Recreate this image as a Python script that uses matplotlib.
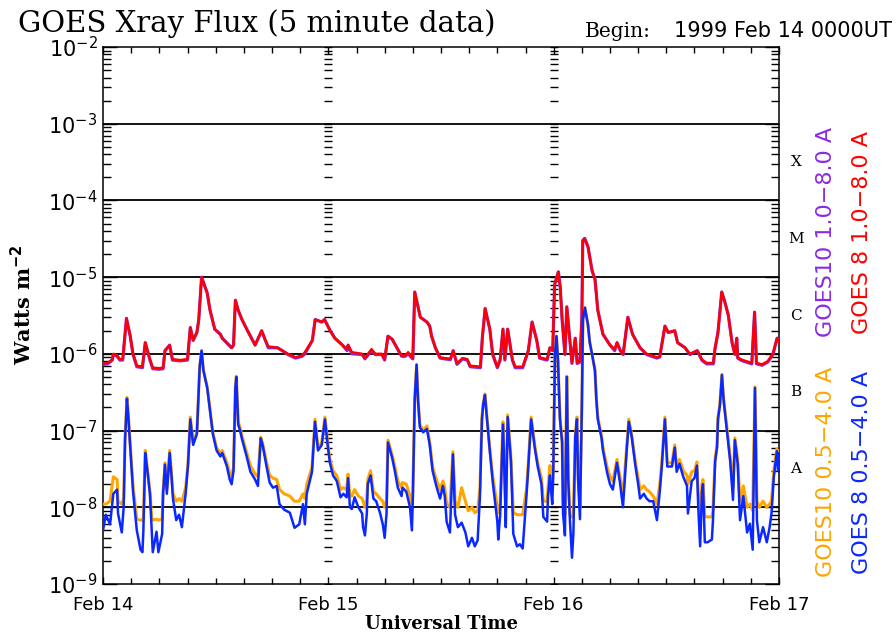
import math
import matplotlib
matplotlib.use("Agg")
import matplotlib.pyplot as plt
from matplotlib.ticker import FixedLocator, MultipleLocator, FuncFormatter, LogLocator, NullFormatter
from matplotlib.transforms import blended_transform_factory

plt.rcParams["mathtext.fontset"] = "dejavusans"

# ---- axis labels -------------------------------------------------------
day_hours = [0, 24, 48, 72]
day_labels = ["Feb 14", "Feb 15", "Feb 16", "Feb 17"]
decade_exps = [-9, -8, -7, -6, -5, -4, -3, -2]
class_labels = ["A", "B", "C", "M", "X"]
class_levels = [10**-7.5, 10**-6.5, 10**-5.5, 10**-4.5, 10**-3.5]

# ---- long channel (1.0-8.0 A), hours since 1999 Feb 14 00 UT ----------
t_long = [0.0, 0.5, 1.0, 1.1, 1.5, 1.8, 2.1, 2.5, 2.9, 3.2, 3.6, 4.2, 4.5, 5.0, 5.3,
          6.0, 6.4, 6.6, 7.1, 7.4, 8.2, 9.0, 9.3, 9.6, 10.0, 10.2, 10.5, 11.1, 11.4,
          11.9, 12.5, 12.7, 13.7, 13.9, 14.1, 14.4, 14.8, 15.4, 16.2, 16.9, 17.3, 17.6,
          18.6, 19.1, 19.7, 20.5, 21.2, 21.5, 22.3, 22.6, 23.3, 23.6, 24.2, 24.7, 25.5,
          26.0, 26.1, 26.5, 27.6, 27.9, 28.6, 29.0, 29.7, 30.0, 30.35, 30.8, 31.3, 31.8,
          32.2, 32.5, 32.9, 33.0, 33.2, 33.8, 34.5, 34.8, 35.0, 35.4, 35.9, 36.4, 37.0,
          37.3, 37.7, 38.3, 38.8, 39.1, 40.2, 40.4, 40.7, 41.2, 41.5, 42.0, 42.3, 42.6,
          42.8, 43.1, 43.6, 43.9, 44.7, 45.3, 45.7, 46.2, 46.5, 47.3, 47.6, 47.9, 48.1,
          48.5, 48.7, 48.9, 49.2, 49.4, 49.7, 49.95, 50.3, 50.5, 50.8, 51.0, 51.1, 51.3,
          51.65, 52.1, 52.4, 52.7, 53.25, 54.0, 54.5, 54.75, 55.1, 55.4, 55.9, 56.4,
          57.2, 57.9, 59.0, 59.3, 59.85, 60.2, 60.9, 61.2, 62.0, 62.5, 63.3, 63.8, 64.3,
          65.0, 65.2, 65.5, 65.9, 66.2, 66.6, 67.0, 67.3, 67.5, 67.6, 68.0, 69.1, 69.4,
          69.6, 70.2, 70.8, 71.35, 71.8, 72.0]

goes8_long = [7.5e-7, 7.6e-7, 8.5e-7, 1.0e-6, 9.5e-7, 8.5e-7, 8.5e-7, 2.9e-6, 1.7e-6,
              1.0e-6, 7.0e-7, 6.8e-7, 1.4e-6, 8.5e-7, 6.6e-7, 6.5e-7, 6.6e-7, 1.1e-6,
              1.3e-6, 8.5e-7, 8.3e-7, 8.5e-7, 2.2e-6, 1.5e-6, 1.9e-6, 2.8e-6, 1.0e-5,
              6.2e-6, 3.7e-6, 2.1e-6, 1.8e-6, 1.6e-6, 1.2e-6, 1.3e-6, 5.0e-6, 3.7e-6,
              2.8e-6, 2.0e-6, 1.3e-6, 2.0e-6, 1.5e-6, 1.25e-6, 1.2e-6, 1.1e-6, 1.0e-6,
              9.0e-7, 9.5e-7, 1.05e-6, 1.5e-6, 2.8e-6, 2.6e-6, 2.8e-6, 2.0e-6, 1.6e-6,
              1.3e-6, 1.15e-6, 1.3e-6, 1.05e-6, 1.0e-6, 8.8e-7, 1.15e-6, 1.0e-6, 1.0e-6,
              8.5e-7, 1.7e-6, 1.55e-6, 1.2e-6, 9.5e-7, 9.5e-7, 1.05e-6, 9.0e-7, 8.8e-7,
              6.4e-6, 3.0e-6, 2.6e-6, 2.3e-6, 1.7e-6, 1.2e-6, 9.0e-7, 8.8e-7, 8.6e-7,
              1.1e-6, 7.5e-7, 8.8e-7, 8.5e-7, 7.0e-7, 6.8e-7, 1.6e-6, 3.9e-6, 2.1e-6,
              1.0e-6, 6.8e-7, 8.5e-7, 2.1e-6, 8.5e-7, 2.1e-6, 8.5e-7, 6.8e-7, 6.8e-7,
              1.1e-6, 2.6e-6, 1.5e-6, 9.0e-7, 8.5e-7, 1.2e-6, 1.1e-6, 8.0e-6, 1.17e-5,
              7.4e-6, 2.8e-6, 1.0e-6, 4.1e-6, 1.6e-6, 7.7e-7, 1.6e-6, 7.7e-7, 8.0e-7,
              2.9e-6, 3.0e-5, 3.2e-5, 2.5e-5, 1.2e-5, 9.4e-6, 3.7e-6, 1.8e-6, 1.3e-6,
              1.15e-6, 1.4e-6, 1.1e-6, 1.0e-6, 3.0e-6, 1.8e-6, 1.2e-6, 1.0e-6, 9.0e-7,
              9.3e-7, 2.3e-6, 1.9e-6, 2.0e-6, 1.4e-6, 1.2e-6, 1.0e-6, 1.1e-6, 8.4e-7,
              7.6e-7, 7.6e-7, 1.2e-6, 1.9e-6, 6.4e-6, 4.9e-6, 3.2e-6, 1.4e-6, 1.0e-6,
              1.6e-6, 9.0e-7, 8.4e-7, 7.6e-7, 3.5e-6, 7.6e-7, 7.3e-7, 8.0e-7, 1.0e-6,
              1.6e-6, 1.45e-6]

goes10_long = [7.3e-7, 7.4e-7, 8.3e-7, 9.8e-7, 9.3e-7, 8.3e-7, 8.3e-7, 2.9e-6, 1.7e-6,
               9.8e-7, 6.8e-7, 6.6e-7, 1.4e-6, 8.3e-7, 6.4e-7, 6.3e-7, 6.4e-7, 1.1e-6,
               1.3e-6, 8.3e-7, 8.1e-7, 8.3e-7, 2.2e-6, 1.5e-6, 1.9e-6, 2.8e-6, 1.0e-5,
               6.2e-6, 3.7e-6, 2.1e-6, 1.8e-6, 1.6e-6, 1.2e-6, 1.3e-6, 5.0e-6, 3.7e-6,
               2.8e-6, 2.0e-6, 1.3e-6, 2.0e-6, 1.5e-6, 1.2e-6, 1.2e-6, 1.1e-6, 9.8e-7,
               8.8e-7, 9.3e-7, 1.0e-6, 1.5e-6, 2.8e-6, 2.6e-6, 2.8e-6, 2.0e-6, 1.6e-6,
               1.3e-6, 1.1e-6, 1.3e-6, 1.0e-6, 9.8e-7, 8.6e-7, 1.1e-6, 9.8e-7, 9.8e-7,
               8.3e-7, 1.7e-6, 1.55e-6, 1.2e-6, 9.3e-7, 9.3e-7, 1.0e-6, 8.8e-7, 8.6e-7,
               6.4e-6, 3.0e-6, 2.6e-6, 2.3e-6, 1.7e-6, 1.2e-6, 8.8e-7, 8.6e-7, 8.4e-7,
               1.1e-6, 7.3e-7, 8.6e-7, 8.3e-7, 6.8e-7, 6.6e-7, 1.6e-6, 3.9e-6, 2.1e-6,
               9.8e-7, 6.6e-7, 8.3e-7, 2.1e-6, 8.3e-7, 2.1e-6, 8.3e-7, 6.6e-7, 6.6e-7,
               1.1e-6, 2.6e-6, 1.5e-6, 8.8e-7, 8.3e-7, 1.2e-6, 1.1e-6, 8.0e-6, 1.17e-5,
               7.4e-6, 2.8e-6, 9.8e-7, 4.1e-6, 1.6e-6, 7.5e-7, 1.6e-6, 7.5e-7, 7.8e-7,
               2.9e-6, 3.0e-5, 3.2e-5, 2.5e-5, 1.2e-5, 9.4e-6, 3.7e-6, 1.8e-6, 1.3e-6,
               1.1e-6, 1.4e-6, 1.1e-6, 9.8e-7, 3.0e-6, 1.8e-6, 1.2e-6, 9.8e-7, 8.8e-7,
               9.1e-7, 2.3e-6, 1.9e-6, 2.0e-6, 1.4e-6, 1.2e-6, 9.8e-7, 1.1e-6, 8.2e-7,
               7.4e-7, 7.4e-7, 1.2e-6, 1.9e-6, 6.4e-6, 4.9e-6, 3.2e-6, 1.4e-6, 9.8e-7,
               1.6e-6, 8.8e-7, 8.2e-7, 7.4e-7, 3.5e-6, 7.4e-7, 7.1e-7, 7.8e-7, 9.8e-7,
               1.6e-6, 1.45e-6]

# ---- short channel (0.5-4.0 A) ----------------------------------------
t_short = [0.0, 0.3, 0.75, 1.1, 1.5, 1.6, 2.0, 2.2, 2.35, 2.55, 2.7, 2.9, 3.2, 3.6,
           4.0, 4.2, 4.3, 4.5, 4.7, 5.0, 5.2, 5.3, 5.7, 5.9, 6.3, 6.4, 6.6, 6.8, 7.1,
           7.3, 7.45, 7.8, 8.1, 8.4, 8.8, 9.05, 9.3, 9.6, 10.0, 10.3, 10.5, 10.7, 11.1,
           11.4, 11.7, 12.1, 12.5, 12.7, 13.2, 13.5, 13.7, 13.9, 14.1, 14.2, 14.4, 14.6,
           14.8, 15.3, 15.7, 16.2, 16.5, 16.8, 17.0, 17.4, 17.75, 18.1, 18.5, 18.8, 19.3,
           19.9, 20.4, 20.9, 21.3, 21.5, 21.7, 22.26, 22.58, 22.9, 23.3, 23.64, 23.96,
           24.17, 24.5, 24.9, 25.3, 25.6, 25.95, 26.1, 26.3, 26.5, 26.8, 27.2, 27.6, 27.7,
           27.9, 28.1, 28.2, 28.5, 28.8, 29.1, 29.5, 29.8, 30.0, 30.2, 30.35, 30.8, 31.1,
           31.4, 31.8, 31.9, 32.3, 32.7, 32.9, 33.0, 33.2, 33.4, 33.55, 33.75, 34.1, 34.5,
           34.8, 35.1, 35.5, 35.9, 36.2, 36.4, 36.6, 36.95, 37.27, 37.5, 37.8, 38.2, 38.6,
           38.9, 39.3, 39.6, 39.9, 40.15, 40.36, 40.5, 40.68, 40.9, 41.2, 41.5, 42.0, 42.1,
           42.3, 42.6, 42.75, 42.9, 43.1, 43.45, 43.7, 44.1, 44.4, 44.7, 45.1, 45.26, 45.6,
           46.0, 46.3, 46.7, 46.9, 47.3, 47.4, 47.6, 47.7, 47.85, 47.95, 48.14, 48.3,
           48.46, 48.67, 48.9, 49.0, 49.2, 49.4, 49.55, 49.73, 49.95, 50.1, 50.3, 50.48,
           50.6, 50.8, 51.0, 51.12, 51.33, 51.65, 51.85, 52.08, 52.4, 52.55, 52.7, 53.1,
           53.25, 53.7, 54.0, 54.3, 54.74, 55.06, 55.38, 55.8, 56.0, 56.3, 56.7, 57.0,
           57.2, 57.6, 57.9, 58.2, 58.6, 59.0, 59.3, 59.5, 59.85, 60.1, 60.6, 60.9, 61.1,
           61.4, 61.8, 62.2, 62.3, 62.7, 63.0, 63.26, 63.4, 63.6, 63.8, 63.9, 64.1, 64.4,
           64.85, 64.96, 65.2, 65.4, 65.5, 65.7, 65.92, 66.1, 66.45, 66.8, 67.1, 67.3,
           67.6, 67.85, 68.2, 68.6, 68.9, 69.2, 69.44, 69.65, 69.9, 70.3, 70.7, 71.0,
           71.2, 71.45, 71.78, 71.9, 72.0]

goes8_short = [5.0e-9, 8.0e-9, 6.0e-9, 1.5e-8, 1.7e-8, 8.3e-9, 4.7e-9, 1.0e-8, 7.5e-8,
               2.6e-7, 1.5e-7, 6.0e-8, 1.6e-8, 5.0e-9, 2.8e-9, 2.6e-9, 5.0e-9, 5.1e-8,
               3.2e-8, 1.5e-8, 4.8e-9, 2.6e-9, 4.8e-9, 2.6e-9, 4.5e-9, 1.5e-8, 3.6e-8,
               1.5e-8, 5.1e-8, 2.5e-8, 1.3e-8, 6.8e-9, 8.0e-9, 5.5e-9, 1.5e-8, 3.5e-8,
               1.4e-7, 6.5e-8, 9.0e-8, 6.8e-7, 1.1e-6, 6.0e-7, 3.6e-7, 1.8e-7, 9.0e-8,
               5.5e-8, 4.6e-8, 5.1e-8, 3.4e-8, 2.3e-8, 2.0e-8, 3.0e-8, 3.6e-7, 5.0e-7,
               1.2e-7, 1.0e-7, 7.8e-8, 4.6e-8, 2.9e-8, 2.3e-8, 1.9e-8, 7.9e-8, 6.5e-8,
               3.5e-8, 2.1e-8, 1.8e-8, 1.9e-8, 1.1e-8, 9.3e-9, 8.5e-9, 5.4e-9, 6.0e-9,
               1.1e-8, 6.0e-9, 1.5e-8, 2.9e-8, 1.3e-7, 5.5e-8, 6.5e-8, 1.4e-7, 6.0e-8,
               3.8e-8, 2.6e-8, 2.2e-8, 1.35e-8, 1.5e-8, 1.35e-8, 2.4e-8, 1.0e-8, 9.5e-9,
               1.35e-8, 1.0e-8, 8.3e-9, 5.5e-9, 4.3e-9, 8.3e-9, 2.0e-8, 2.6e-8, 1.3e-8,
               1.2e-8, 8.5e-9, 6.0e-9, 4.0e-9, 8.3e-9, 7.0e-8, 4.4e-8, 2.9e-8, 1.8e-8,
               1.4e-8, 1.8e-8, 1.6e-8, 1.0e-8, 5.0e-9, 1.3e-8, 2.5e-7, 7.2e-7, 2.5e-7,
               1.1e-7, 9.5e-8, 1.05e-7, 6.5e-8, 3.0e-8, 1.9e-8, 1.3e-8, 1.9e-8, 1.4e-8,
               6.5e-9, 4.7e-9, 4.9e-8, 8.0e-9, 5.5e-9, 6.3e-9, 4.7e-9, 3.1e-9, 4.0e-9,
               3.1e-9, 3.7e-9, 1.4e-8, 1.4e-7, 2.2e-7, 2.9e-7, 1.4e-7, 5.4e-8, 2.2e-8,
               6.5e-9, 3.8e-9, 8.0e-9, 1.2e-7, 3.0e-8, 5.5e-9, 1.5e-7, 4.0e-8, 4.5e-9,
               3.1e-9, 3.3e-9, 2.9e-9, 1.4e-8, 2.8e-8, 1.4e-7, 5.8e-8, 3.4e-8, 2.0e-8,
               7.5e-9, 6.5e-9, 1.4e-8, 2.6e-8, 1.8e-8, 1.1e-8, 2.5e-8, 1.0e-6, 1.7e-6,
               8.0e-7, 1.4e-7, 7.0e-8, 8.3e-9, 4.3e-9, 5.0e-7, 2.3e-8, 6.8e-9, 2.2e-9,
               4.5e-9, 8.2e-8, 1.4e-7, 2.3e-8, 7.0e-9, 2.0e-7, 2.8e-6, 4.0e-6, 2.4e-6,
               1.4e-6, 1.0e-6, 6.0e-7, 2.5e-7, 1.4e-7, 8.0e-8, 5.5e-8, 2.8e-8, 2.0e-8,
               1.7e-8, 3.8e-8, 2.1e-8, 1.0e-8, 6.0e-8, 1.3e-7, 8.5e-8, 3.5e-8, 2.0e-8,
               1.3e-8, 1.5e-8, 1.3e-8, 1.2e-8, 1.2e-8, 6.8e-9, 1.6e-8, 3.2e-8, 1.4e-7,
               3.4e-8, 3.4e-8, 6.0e-8, 2.9e-8, 3.7e-8, 2.5e-8, 1.9e-8, 8.3e-9, 2.2e-8,
               2.4e-8, 3.5e-8, 1.0e-8, 3.1e-9, 1.6e-8, 2.0e-8, 3.5e-9, 3.5e-9, 3.8e-9,
               6.5e-9, 4.0e-8, 6.0e-8, 1.4e-7, 2.1e-7, 5.3e-7, 2.5e-7, 1.0e-7, 4.0e-8,
               1.25e-8, 7.5e-8, 3.7e-8, 6.8e-9, 1.4e-8, 4.7e-9, 6.1e-9, 2.8e-9, 3.6e-7,
               6.8e-9, 3.5e-9, 5.5e-9, 3.5e-9, 5.5e-9, 8.3e-9, 2.5e-8, 5.4e-8, 3.0e-8,
               5.0e-8]

goes10_short = [1.1e-8, 1.1e-8, 1.2e-8, 2.5e-8, 2.3e-8, 1.2e-8, 1.1e-8, 1.3e-8, 8.0e-8,
                2.7e-7, 1.6e-7, 6.5e-8, 1.9e-8, 7.0e-9, 6.8e-9, 6.8e-9, 7.0e-9, 5.5e-8,
                3.4e-8, 1.6e-8, 7.0e-9, 6.8e-9, 7.0e-9, 6.8e-9, 7.0e-9, 1.6e-8, 3.8e-8,
                1.7e-8, 5.5e-8, 2.7e-8, 1.5e-8, 1.2e-8, 1.3e-8, 1.2e-8, 1.8e-8, 3.7e-8,
                1.5e-7, 7.0e-8, 9.5e-8, 7.0e-7, 1.1e-6, 6.2e-7, 3.7e-7, 1.9e-7, 9.5e-8,
                6.0e-8, 5.0e-8, 5.5e-8, 3.8e-8, 2.8e-8, 2.5e-8, 3.3e-8, 3.7e-7, 5.1e-7,
                1.3e-7, 1.1e-7, 8.5e-8, 5.2e-8, 3.5e-8, 2.7e-8, 2.5e-8, 8.2e-8, 6.8e-8,
                4.0e-8, 2.6e-8, 2.4e-8, 2.3e-8, 1.7e-8, 1.5e-8, 1.4e-8, 1.2e-8, 1.2e-8,
                1.5e-8, 1.3e-8, 2.0e-8, 3.3e-8, 1.4e-7, 6.0e-8, 7.0e-8, 1.5e-7, 6.5e-8,
                4.2e-8, 3.0e-8, 2.6e-8, 1.7e-8, 1.8e-8, 1.7e-8, 2.7e-8, 1.4e-8, 1.4e-8,
                1.7e-8, 1.4e-8, 1.3e-8, 1.2e-8, 1.0e-8, 1.3e-8, 2.3e-8, 3.0e-8, 1.6e-8,
                1.5e-8, 1.3e-8, 1.2e-8, 1.0e-8, 1.2e-8, 7.5e-8, 4.8e-8, 3.3e-8, 2.2e-8,
                1.8e-8, 2.1e-8, 2.0e-8, 1.4e-8, 1.1e-8, 1.6e-8, 2.6e-7, 7.3e-7, 2.6e-7,
                1.2e-7, 1.0e-7, 1.15e-7, 7.0e-8, 3.4e-8, 2.3e-8, 1.7e-8, 2.2e-8, 1.8e-8,
                1.1e-8, 1.0e-8, 5.3e-8, 1.2e-8, 1.0e-8, 1.8e-8, 1.2e-8, 9.0e-9, 1.0e-8,
                8.5e-9, 9.0e-9, 1.8e-8, 1.5e-7, 2.3e-7, 3.0e-7, 1.5e-7, 5.8e-8, 2.6e-8,
                1.0e-8, 8.5e-9, 1.1e-8, 1.3e-7, 3.4e-8, 1.0e-8, 1.6e-7, 4.4e-8, 8.5e-9,
                8.0e-9, 8.0e-9, 8.0e-9, 1.7e-8, 3.2e-8, 1.5e-7, 6.3e-8, 3.8e-8, 2.4e-8,
                1.2e-8, 1.2e-8, 1.8e-8, 3.5e-8, 2.5e-8, 2.0e-8, 3.0e-8, 1.0e-6, 1.7e-6,
                8.2e-7, 1.5e-7, 7.5e-8, 1.1e-8, 8.0e-9, 5.1e-7, 2.7e-8, 8.0e-9, 7.5e-9,
                8.0e-9, 8.6e-8, 1.5e-7, 2.7e-8, 1.0e-8, 2.1e-7, 2.8e-6, 4.0e-6, 2.4e-6,
                1.4e-6, 1.0e-6, 6.2e-7, 2.6e-7, 1.5e-7, 8.5e-8, 6.0e-8, 3.3e-8, 2.5e-8,
                2.2e-8, 4.2e-8, 2.5e-8, 1.4e-8, 6.5e-8, 1.4e-7, 9.0e-8, 3.9e-8, 2.4e-8,
                1.7e-8, 1.9e-8, 1.7e-8, 1.6e-8, 1.4e-8, 1.1e-8, 2.0e-8, 3.6e-8, 1.5e-7,
                3.8e-8, 3.8e-8, 6.5e-8, 3.3e-8, 4.2e-8, 3.0e-8, 2.6e-8, 2.0e-8, 2.9e-8,
                3.0e-8, 3.9e-8, 1.5e-8, 8.0e-9, 2.0e-8, 2.3e-8, 7.5e-9, 7.5e-9, 7.5e-9,
                9.0e-9, 4.4e-8, 6.5e-8, 1.5e-7, 2.2e-7, 5.4e-7, 2.6e-7, 1.1e-7, 4.5e-8,
                1.8e-8, 8.0e-8, 4.2e-8, 1.2e-8, 1.9e-8, 1.0e-8, 1.1e-8, 9.0e-9, 3.7e-7,
                1.2e-8, 1.0e-8, 1.2e-8, 1.0e-8, 1.1e-8, 1.2e-8, 3.0e-8, 5.8e-8, 3.5e-8,
                5.4e-8]

# ---- figure ------------------------------------------------------------
W, H = 896, 632
fig = plt.figure(figsize=(W / 100, H / 100), dpi=100)
fig.patch.set_facecolor("white")
ax = fig.add_axes([103 / W, 1 - 584 / H, 676 / W, 537 / H])

c_red, c_purple, c_orange, c_blue = "#ff0000", "#8a2be2", "#ffa500", "#0a28ff"
lw = 1.8
ax.plot(t_long, goes10_long, color=c_purple, lw=lw + 0.5, zorder=3)
ax.plot(t_long, goes8_long, color=c_red, lw=lw, zorder=4)
ax.plot(t_short, goes10_short, color=c_orange, lw=lw + 0.4, zorder=3)
ax.plot(t_short, goes8_short, color=c_blue, lw=lw, zorder=4)

ax.set_yscale("log")
ax.set_ylim(1e-9, 1e-2)
ax.set_xlim(day_hours[0], day_hours[-1])

# decade reference lines
for e in decade_exps[1:-1]:
    ax.axhline(10.0**e, color="black", lw=1.3, zorder=2)

# log tick marks repeated along each interior day boundary
tick_vals = [m * 10.0**e for e in decade_exps[:-1] for m in range(1, 10)] + [1e-2]
for d in day_hours[1:-1]:
    ax.plot([d] * len(tick_vals), tick_vals, ls="none", marker="_", ms=6, mew=1.0,
            color="black", zorder=2)

# y axis ticks
ax.yaxis.set_major_locator(FixedLocator([10.0**e for e in decade_exps]))
ax.yaxis.set_minor_locator(LogLocator(base=10, subs=range(2, 10), numticks=20))
ax.yaxis.set_minor_formatter(NullFormatter())
ax.yaxis.set_major_formatter(FuncFormatter(lambda v, p: r"$10^{%d}$" % round(math.log10(v))))
ax.tick_params(axis="y", which="both", direction="in", left=True, right=True,
               width=1.0, labelsize=15, pad=4)
ax.tick_params(axis="y", which="major", length=10)
ax.tick_params(axis="y", which="minor", length=6)

# x axis ticks
ax.set_xticks(day_hours)
ax.set_xticklabels(day_labels, fontfamily="DejaVu Sans")
ax.xaxis.set_minor_locator(MultipleLocator(3))
ax.tick_params(axis="x", which="both", direction="in", top=True, bottom=True,
               width=1.0, labelsize=13, pad=9)
ax.tick_params(axis="x", which="major", length=5)
ax.tick_params(axis="x", which="minor", length=4)

for s in ax.spines.values():
    s.set_linewidth(1.1)

# flare class letters on the right
tr = blended_transform_factory(ax.transAxes, ax.transData)
for lab, lev in zip(class_labels, class_levels):
    ax.text(1.025, lev, lab, transform=tr, ha="center", va="center",
            fontfamily="DejaVu Serif", fontsize=11)

# rotated channel labels
legend_font = dict(rotation=90, ha="center", va="center", fontsize=16,
                   fontfamily="DejaVu Sans")
fig.text(826 / W, 1 - 472 / H, "GOES10 0.5\u22124.0 A", color=c_orange, **legend_font)
fig.text(826 / W, 1 - 232 / H, "GOES10 1.0\u22128.0 A", color=c_purple, **legend_font)
fig.text(862 / W, 1 - 472 / H, "GOES 8 0.5\u22124.0 A", color=c_blue, **legend_font)
fig.text(862 / W, 1 - 232 / H, "GOES 8 1.0\u22128.0 A", color=c_red, **legend_font)

# titles and axis labels
fig.text(18 / W, 1 - 32 / H, "GOES Xray Flux (5 minute data)", fontsize=21,
         fontfamily="DejaVu Serif", va="baseline", ha="left")
fig.text(585 / W, 1 - 37 / H, "Begin:", fontsize=14.5, fontfamily="DejaVu Serif",
         va="baseline", ha="left")
fig.text(674 / W, 1 - 37 / H, "1999 Feb 14 0000UT", fontsize=15,
         fontfamily="DejaVu Sans", va="baseline", ha="left")
fig.text(23 / W, 1 - 305 / H, "Watts m$^{\\mathbf{-2}}$", rotation=90, fontsize=15,
         fontweight="bold", fontfamily="DejaVu Serif", ha="center", va="center")
fig.text(441 / W, 1 - 624 / H, "Universal Time", fontsize=13, fontweight="bold",
         fontfamily="DejaVu Serif", ha="center", va="center")

fig.savefig("out.png", dpi=100, facecolor="white")
